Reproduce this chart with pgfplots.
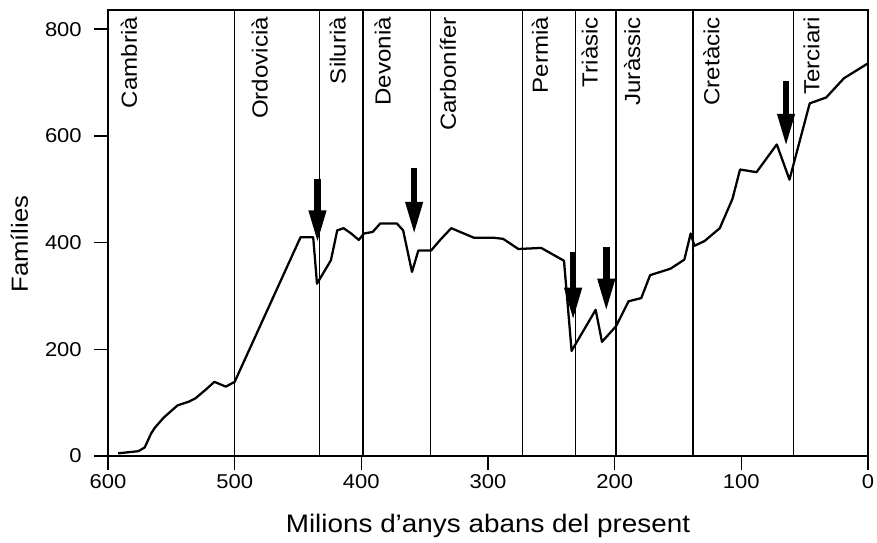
\documentclass[border=0pt]{standalone}
\usepackage{fontspec}
\setmainfont[FakeStretch=1.1]{Liberation Sans}
\usepackage{pgfplots}
\pgfplotsset{compat=1.18}
\usetikzlibrary{arrows.meta}
\begin{document}
\begin{tikzpicture}
\begin{axis}[
  scale only axis,
  width=570pt, height=334.5pt,
  xmin=0, xmax=600, ymin=0, ymax=836,
  x dir=reverse,
  xtick={0,100,...,600}, ytick={0,200,...,800},
  tick pos=left,
  tick align=outside,
  major tick length=10.5pt,
  tick style={black, line width=1.1pt},
  axis line style={black, line width=1.2pt},
  /pgf/number format/assume math mode=true,
  tick label style={font=\fontsize{15}{18}\selectfont},
  yticklabel style={anchor=east, inner sep=0pt, xshift=-9pt},
  xticklabel style={anchor=north, inner sep=0pt, yshift=-3pt},
  xlabel={Milions d'anys abans del present},
  ylabel={Famílies},
  xlabel style={font=\fontsize{19}{22}\selectfont, at={(axis description cs:0.5,0)}, anchor=base, yshift=-57.5pt},
  ylabel style={font=\fontsize{17.5}{20}\selectfont, at={(axis description cs:-0.1053,0.4753)}, anchor=base, rotate=0},
  clip=false,
]
\foreach \bx in {500,433,398.5,345.5,272.7,231,199,138,59}{
  \edef\temp{\noexpand\addplot[black, line width=1.1pt, forget plot] coordinates {(\bx,0) (\bx,836)};}
  \temp
}
\addplot[black, line width=1.7pt, line join=round] coordinates {
(592,5) (576,9) (571,16) (566,42) (563,53) (556,72) (545,95) (536,102) (531,108)
(523,124) (516,139) (507,130) (500,139) (448,410) (438,410) (435,323) (424,367)
(419,423) (414,427) (408,417) (402,405) (398,417) (391,420) (385,436) (372,436)
(367,423) (360,345) (355,385) (345,385) (337,407) (329,427) (311,409) (295,409)
(288,407) (276,388) (258,390) (240,366) (234,197) (215,274) (210,214) (199,243)
(189,290) (179,296) (172,339) (156,351) (145,368) (140,417) (137,394) (129,403)
(117,427) (107,482) (101,537) (88,532) (72,584) (62,518) (46,661) (33,672)
(19,708) (0,736)
};
\addplot[black, line width=5pt, no markers,
  quiver={u=0, v=\thisrow{v}},
  -{Triangle[width=12pt,length=25pt]}] table[x=x, y=y] {
x y v
434.6 520 -122
358.3 539 -125
232.8 382 -129
206.6 391 -121
64.7 702 -123
};
\foreach \lx/\lab in {583.5/Cambrià, 480.2/Ordovicià, 418.7/Silurià, 383.2/Devonià, 331.7/Carbonífer, 259/Permià, 219.7/Triàsic, 186.2/Juràssic, 123.6/Cretàcic, 44.5/Terciari}{
  \edef\temp{\noexpand\node[rotate=90, anchor=east, inner sep=0pt, font=\noexpand\fontsize{16.4}{19}\noexpand\selectfont] at (axis cs:\lx,823) {\lab};}
  \temp
}
\end{axis}
\path ([xshift=-81pt,yshift=-63.75pt]current axis.south west) rectangle ([xshift=6.75pt,yshift=7.5pt]current axis.north east);
\end{tikzpicture}
\end{document}
